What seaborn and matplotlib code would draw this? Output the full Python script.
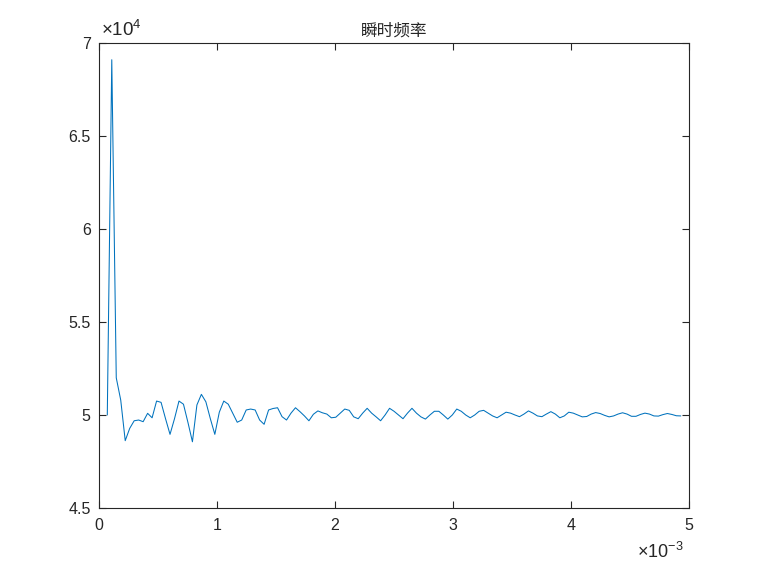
import numpy as np
import pandas as pd
import matplotlib
matplotlib.use("Agg")
import matplotlib.pyplot as plt
import seaborn as sns
from matplotlib.ticker import FuncFormatter

# ---- data ----
t_start = 0.0703e-3      # s, time of first sample
t_step = 0.03797e-3      # s, sample spacing
freq_e4 = [
    5.00, 6.91, 5.20, 5.08, 4.862, 4.928, 4.969, 4.973, 4.964, 5.009,
    4.985, 5.075, 5.068, 4.98, 4.896, 4.98, 5.075, 5.058, 4.96, 4.856,
    5.054, 5.111, 5.071, 4.98, 4.896, 5.015, 5.075, 5.058, 5.01, 4.961,
    4.973, 5.027, 5.032, 5.027, 4.973, 4.95, 5.027, 5.035, 5.039, 4.991,
    4.973, 5.01, 5.039, 5.018, 4.995, 4.969, 5.004, 5.022, 5.012, 5.005,
    4.985, 4.988, 5.01, 5.032, 5.025, 4.99, 4.98, 5.01, 5.036, 5.01,
    4.99, 4.969, 5.00, 5.036, 5.02, 5.00, 4.98, 5.01, 5.036, 5.01,
    4.99, 4.978, 5.00, 5.02, 5.02, 5.00, 4.978, 5.00, 5.032, 5.02,
    5.00, 4.985, 5.00, 5.02, 5.025, 5.01, 4.995, 4.985, 5.00, 5.015,
    5.01, 5.00, 4.991, 5.005, 5.022, 5.01, 4.995, 4.991, 5.005, 5.018,
    5.005, 4.985, 4.995, 5.015, 5.01, 5.00, 4.99, 4.992, 5.005, 5.013,
    5.008, 4.998, 4.99, 4.995, 5.005, 5.012, 5.005, 4.993, 4.993, 5.003,
    5.01, 5.005, 4.995, 4.994, 5.002, 5.008, 5.003, 4.996, 4.995,
]
title_text = "瞬时频率"
x_ticks = [0, 1e-3, 2e-3, 3e-3, 4e-3, 5e-3]
y_ticks = [4.5e4, 5e4, 5.5e4, 6e4, 6.5e4, 7e4]

freq = np.array(freq_e4) * 1e4
t = t_start + t_step * np.arange(len(freq))
df = pd.DataFrame({"t": t, "f": freq})

# ---- style ----
sns.set_theme(style="white")
plt.rcParams["font.family"] = ["Liberation Sans", "Noto Sans CJK SC", "DejaVu Sans"]
plt.rcParams["mathtext.fontset"] = "custom"
plt.rcParams["mathtext.rm"] = "Liberation Sans"
plt.rcParams["mathtext.it"] = "Liberation Sans"

fig = plt.figure(figsize=(7.6, 5.7), dpi=100)
ax = fig.add_axes([99 / 760, 62 / 570, 590 / 760, 465 / 570])

sns.lineplot(data=df, x="t", y="f", ax=ax, color="#0072BD", linewidth=0.75)

ax.set_xlim(0, 5e-3)
ax.set_ylim(4.5e4, 7e4)
ax.set_xticks(x_ticks)
ax.set_yticks(y_ticks)
ax.xaxis.set_major_formatter(FuncFormatter(lambda v, p: "%g" % round(v / 1e-3, 6)))
ax.yaxis.set_major_formatter(FuncFormatter(lambda v, p: "%g" % round(v / 1e4, 6)))
ax.set_xlabel("")
ax.set_ylabel("")

edge = "#262626"
for s in ax.spines.values():
    s.set_color(edge)
    s.set_linewidth(0.8)
ax.tick_params(axis="both", which="both", direction="in", length=5, width=0.8,
               color=edge, labelcolor=edge, labelsize=11.5,
               top=True, right=True, bottom=True, left=True)
ax.tick_params(axis="x", pad=7)
ax.tick_params(axis="y", pad=6)

ax.set_title(title_text, fontsize=12, color=edge, pad=5,
             family=["Noto Sans CJK SC", "DejaVu Sans"])

ax.text(0.004, 1.006, r"$\times10^{4}$", transform=ax.transAxes, ha="left",
        va="bottom", fontsize=13.5, color=edge)
ax.text(0.99, -0.072, r"$\times10^{-3}$", transform=ax.transAxes, ha="right",
        va="top", fontsize=13, color=edge)

fig.savefig("out.png", dpi=100, facecolor="white")
